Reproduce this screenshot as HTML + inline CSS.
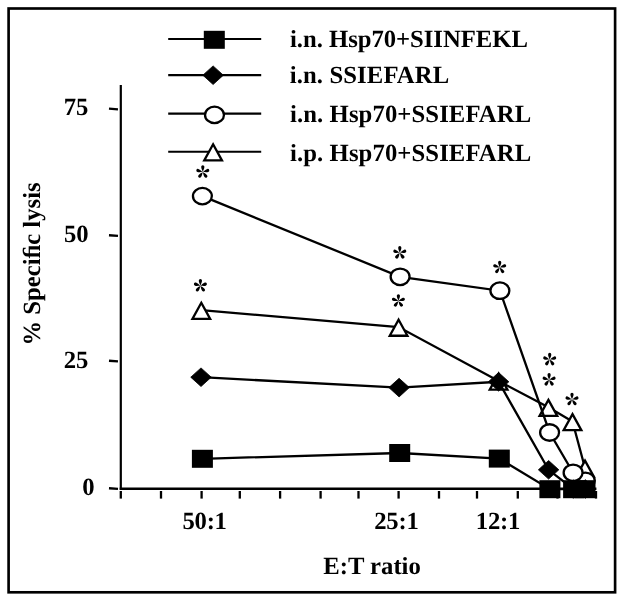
<!DOCTYPE html><html><head><meta charset="utf-8"><style>html,body{margin:0;padding:0;background:#fff;width:623px;height:600px;overflow:hidden}svg{display:block;will-change:transform}</style></head><body>
<svg width="623" height="600" viewBox="0 0 623 600">
<rect x="0" y="0" width="623" height="600" fill="#fff"/>
<rect x="8.6" y="8.5" width="606.5" height="583.8" fill="none" stroke="#000" stroke-width="2.65"/>
<line x1="120.8" y1="85" x2="120.8" y2="489.7" stroke="#000" stroke-width="2.2"/>
<line x1="119.7" y1="488.8" x2="596.4" y2="488.8" stroke="#000" stroke-width="2.4"/>
<line x1="109" y1="108.65" x2="118" y2="109.35" stroke="#000" stroke-width="2.3"/>
<line x1="109" y1="235.25" x2="118" y2="235.95" stroke="#000" stroke-width="2.3"/>
<line x1="109" y1="360.75" x2="118" y2="361.45" stroke="#000" stroke-width="2.3"/>
<line x1="109" y1="488.25" x2="118" y2="488.95" stroke="#000" stroke-width="2.3"/>
<line x1="120.8" y1="491" x2="120.8" y2="498.6" stroke="#000" stroke-width="2.3"/>
<line x1="161.0" y1="491" x2="161.0" y2="498.6" stroke="#000" stroke-width="2.3"/>
<line x1="201.6" y1="491" x2="201.6" y2="498.6" stroke="#000" stroke-width="2.3"/>
<line x1="239.8" y1="491" x2="239.8" y2="498.6" stroke="#000" stroke-width="2.3"/>
<line x1="280.1" y1="491" x2="280.1" y2="498.6" stroke="#000" stroke-width="2.3"/>
<line x1="320.6" y1="491" x2="320.6" y2="498.6" stroke="#000" stroke-width="2.3"/>
<line x1="358.5" y1="491" x2="358.5" y2="498.6" stroke="#000" stroke-width="2.3"/>
<line x1="398.6" y1="491" x2="398.6" y2="498.6" stroke="#000" stroke-width="2.3"/>
<line x1="439.0" y1="491" x2="439.0" y2="498.6" stroke="#000" stroke-width="2.3"/>
<line x1="477.0" y1="491" x2="477.0" y2="498.6" stroke="#000" stroke-width="2.3"/>
<line x1="517.8" y1="491" x2="517.8" y2="498.6" stroke="#000" stroke-width="2.3"/>
<line x1="557.5" y1="491" x2="557.5" y2="498.6" stroke="#000" stroke-width="2.3"/>
<line x1="596.0" y1="491" x2="596.0" y2="498.6" stroke="#000" stroke-width="2.3"/>
<line x1="168.2" y1="39.0" x2="261.2" y2="39.0" stroke="#000" stroke-width="2.1"/>
<rect x="203.80" y="30.80" width="21" height="18" fill="#000"/>
<line x1="168.2" y1="75.1" x2="261.2" y2="75.1" stroke="#000" stroke-width="2.1"/>
<path d="M213.10,65.90 L223.35,75.20 L213.10,84.50 L202.85,75.20 Z" fill="#000" stroke="#000" stroke-width="0.8" stroke-linejoin="round"/>
<line x1="168.2" y1="113.6" x2="261.2" y2="113.6" stroke="#000" stroke-width="2.1"/>
<ellipse cx="214.5" cy="114.9" rx="9.45" ry="8.25" fill="#fff" stroke="#000" stroke-width="2.3"/>
<line x1="168.2" y1="151.7" x2="261.2" y2="151.7" stroke="#000" stroke-width="2.1"/>
<path d="M213.10,144.28 L221.95,160.35 L204.25,160.35 Z" fill="#fff" stroke="#000" stroke-width="2.3" stroke-linejoin="miter"/>
<polyline points="201.3,310.2 398.6,327.1 498.6,381.0 548.4,407.3 572.5,421.5 585.0,468.0" fill="none" stroke="#000" stroke-width="2.3"/>
<path d="M201.30,302.78 L210.15,318.85 L192.45,318.85 Z" fill="#fff" stroke="#000" stroke-width="2.3" stroke-linejoin="miter"/>
<path d="M398.60,319.68 L407.45,335.75 L389.75,335.75 Z" fill="#fff" stroke="#000" stroke-width="2.3" stroke-linejoin="miter"/>
<path d="M498.60,373.58 L507.45,389.65 L489.75,389.65 Z" fill="#fff" stroke="#000" stroke-width="2.3" stroke-linejoin="miter"/>
<path d="M548.40,399.88 L557.25,415.95 L539.55,415.95 Z" fill="#fff" stroke="#000" stroke-width="2.3" stroke-linejoin="miter"/>
<path d="M572.50,414.08 L581.35,430.15 L563.65,430.15 Z" fill="#fff" stroke="#000" stroke-width="2.3" stroke-linejoin="miter"/>
<path d="M585.00,460.58 L593.85,476.65 L576.15,476.65 Z" fill="#fff" stroke="#000" stroke-width="2.3" stroke-linejoin="miter"/>
<polyline points="202.4,196.1 400.1,276.8 499.9,290.7 549.6,432.5 573.1,472.8 585.3,480.8" fill="none" stroke="#000" stroke-width="2.3"/>
<ellipse cx="585.3" cy="480.8" rx="9.45" ry="8.25" fill="#fff" stroke="#000" stroke-width="2.3"/>
<ellipse cx="573.1" cy="472.8" rx="9.45" ry="8.25" fill="#fff" stroke="#000" stroke-width="2.3"/>
<ellipse cx="549.6" cy="432.5" rx="9.45" ry="8.25" fill="#fff" stroke="#000" stroke-width="2.3"/>
<ellipse cx="499.9" cy="290.7" rx="9.45" ry="8.25" fill="#fff" stroke="#000" stroke-width="2.3"/>
<ellipse cx="400.1" cy="276.8" rx="9.45" ry="8.25" fill="#fff" stroke="#000" stroke-width="2.3"/>
<ellipse cx="202.4" cy="196.1" rx="9.45" ry="8.25" fill="#fff" stroke="#000" stroke-width="2.3"/>
<polyline points="201.0,377.2 399.1,387.6 498.6,381.8 548.6,469.8 573.2,489.0 585.3,489.0" fill="none" stroke="#000" stroke-width="2.3"/>
<path d="M201.00,367.90 L211.25,377.20 L201.00,386.50 L190.75,377.20 Z" fill="#000" stroke="#000" stroke-width="0.8" stroke-linejoin="round"/>
<path d="M399.10,378.30 L409.35,387.60 L399.10,396.90 L388.85,387.60 Z" fill="#000" stroke="#000" stroke-width="0.8" stroke-linejoin="round"/>
<path d="M498.60,372.50 L508.85,381.80 L498.60,391.10 L488.35,381.80 Z" fill="#000" stroke="#000" stroke-width="0.8" stroke-linejoin="round"/>
<path d="M548.60,460.50 L558.85,469.80 L548.60,479.10 L538.35,469.80 Z" fill="#000" stroke="#000" stroke-width="0.8" stroke-linejoin="round"/>
<path d="M573.20,479.70 L583.45,489.00 L573.20,498.30 L562.95,489.00 Z" fill="#000" stroke="#000" stroke-width="0.8" stroke-linejoin="round"/>
<path d="M585.30,479.70 L595.55,489.00 L585.30,498.30 L575.05,489.00 Z" fill="#000" stroke="#000" stroke-width="0.8" stroke-linejoin="round"/>
<polyline points="202.4,458.8 399.7,453.0 499.3,458.6 549.9,489.2 573.6,489.2 585.0,489.2" fill="none" stroke="#000" stroke-width="2.3"/>
<rect x="191.90" y="449.80" width="21" height="18" fill="#000"/>
<rect x="389.20" y="444.00" width="21" height="18" fill="#000"/>
<rect x="488.80" y="449.60" width="21" height="18" fill="#000"/>
<rect x="539.40" y="480.20" width="21" height="18" fill="#000"/>
<rect x="563.10" y="480.20" width="21" height="18" fill="#000"/>
<rect x="574.50" y="480.20" width="21" height="18" fill="#000"/>
<g transform="translate(202.8,172.0) scale(1.0,1)"><path transform="rotate(0)" d="M0,0 C-0.35,-1.4 -1.6,-3.15 -1.6,-5.15 A1.6,1.6 0 0 1 1.6,-5.15 C1.6,-3.15 0.35,-1.4 0,0 Z" fill="#000"/><path transform="rotate(72)" d="M0,0 C-0.35,-1.4 -1.6,-3.15 -1.6,-5.15 A1.6,1.6 0 0 1 1.6,-5.15 C1.6,-3.15 0.35,-1.4 0,0 Z" fill="#000"/><path transform="rotate(144)" d="M0,0 C-0.35,-1.4 -1.6,-3.15 -1.6,-5.15 A1.6,1.6 0 0 1 1.6,-5.15 C1.6,-3.15 0.35,-1.4 0,0 Z" fill="#000"/><path transform="rotate(216)" d="M0,0 C-0.35,-1.4 -1.6,-3.15 -1.6,-5.15 A1.6,1.6 0 0 1 1.6,-5.15 C1.6,-3.15 0.35,-1.4 0,0 Z" fill="#000"/><path transform="rotate(288)" d="M0,0 C-0.35,-1.4 -1.6,-3.15 -1.6,-5.15 A1.6,1.6 0 0 1 1.6,-5.15 C1.6,-3.15 0.35,-1.4 0,0 Z" fill="#000"/></g>
<g transform="translate(399.8,252.8) scale(1.0,1)"><path transform="rotate(0)" d="M0,0 C-0.35,-1.4 -1.6,-3.15 -1.6,-5.15 A1.6,1.6 0 0 1 1.6,-5.15 C1.6,-3.15 0.35,-1.4 0,0 Z" fill="#000"/><path transform="rotate(72)" d="M0,0 C-0.35,-1.4 -1.6,-3.15 -1.6,-5.15 A1.6,1.6 0 0 1 1.6,-5.15 C1.6,-3.15 0.35,-1.4 0,0 Z" fill="#000"/><path transform="rotate(144)" d="M0,0 C-0.35,-1.4 -1.6,-3.15 -1.6,-5.15 A1.6,1.6 0 0 1 1.6,-5.15 C1.6,-3.15 0.35,-1.4 0,0 Z" fill="#000"/><path transform="rotate(216)" d="M0,0 C-0.35,-1.4 -1.6,-3.15 -1.6,-5.15 A1.6,1.6 0 0 1 1.6,-5.15 C1.6,-3.15 0.35,-1.4 0,0 Z" fill="#000"/><path transform="rotate(288)" d="M0,0 C-0.35,-1.4 -1.6,-3.15 -1.6,-5.15 A1.6,1.6 0 0 1 1.6,-5.15 C1.6,-3.15 0.35,-1.4 0,0 Z" fill="#000"/></g>
<g transform="translate(499.7,267.4) scale(1.0,1)"><path transform="rotate(0)" d="M0,0 C-0.35,-1.4 -1.6,-3.15 -1.6,-5.15 A1.6,1.6 0 0 1 1.6,-5.15 C1.6,-3.15 0.35,-1.4 0,0 Z" fill="#000"/><path transform="rotate(72)" d="M0,0 C-0.35,-1.4 -1.6,-3.15 -1.6,-5.15 A1.6,1.6 0 0 1 1.6,-5.15 C1.6,-3.15 0.35,-1.4 0,0 Z" fill="#000"/><path transform="rotate(144)" d="M0,0 C-0.35,-1.4 -1.6,-3.15 -1.6,-5.15 A1.6,1.6 0 0 1 1.6,-5.15 C1.6,-3.15 0.35,-1.4 0,0 Z" fill="#000"/><path transform="rotate(216)" d="M0,0 C-0.35,-1.4 -1.6,-3.15 -1.6,-5.15 A1.6,1.6 0 0 1 1.6,-5.15 C1.6,-3.15 0.35,-1.4 0,0 Z" fill="#000"/><path transform="rotate(288)" d="M0,0 C-0.35,-1.4 -1.6,-3.15 -1.6,-5.15 A1.6,1.6 0 0 1 1.6,-5.15 C1.6,-3.15 0.35,-1.4 0,0 Z" fill="#000"/></g>
<g transform="translate(200.4,285.7) scale(1.0,1)"><path transform="rotate(0)" d="M0,0 C-0.35,-1.4 -1.6,-3.15 -1.6,-5.15 A1.6,1.6 0 0 1 1.6,-5.15 C1.6,-3.15 0.35,-1.4 0,0 Z" fill="#000"/><path transform="rotate(72)" d="M0,0 C-0.35,-1.4 -1.6,-3.15 -1.6,-5.15 A1.6,1.6 0 0 1 1.6,-5.15 C1.6,-3.15 0.35,-1.4 0,0 Z" fill="#000"/><path transform="rotate(144)" d="M0,0 C-0.35,-1.4 -1.6,-3.15 -1.6,-5.15 A1.6,1.6 0 0 1 1.6,-5.15 C1.6,-3.15 0.35,-1.4 0,0 Z" fill="#000"/><path transform="rotate(216)" d="M0,0 C-0.35,-1.4 -1.6,-3.15 -1.6,-5.15 A1.6,1.6 0 0 1 1.6,-5.15 C1.6,-3.15 0.35,-1.4 0,0 Z" fill="#000"/><path transform="rotate(288)" d="M0,0 C-0.35,-1.4 -1.6,-3.15 -1.6,-5.15 A1.6,1.6 0 0 1 1.6,-5.15 C1.6,-3.15 0.35,-1.4 0,0 Z" fill="#000"/></g>
<g transform="translate(398.4,300.9) scale(1.0,1)"><path transform="rotate(0)" d="M0,0 C-0.35,-1.4 -1.6,-3.15 -1.6,-5.15 A1.6,1.6 0 0 1 1.6,-5.15 C1.6,-3.15 0.35,-1.4 0,0 Z" fill="#000"/><path transform="rotate(72)" d="M0,0 C-0.35,-1.4 -1.6,-3.15 -1.6,-5.15 A1.6,1.6 0 0 1 1.6,-5.15 C1.6,-3.15 0.35,-1.4 0,0 Z" fill="#000"/><path transform="rotate(144)" d="M0,0 C-0.35,-1.4 -1.6,-3.15 -1.6,-5.15 A1.6,1.6 0 0 1 1.6,-5.15 C1.6,-3.15 0.35,-1.4 0,0 Z" fill="#000"/><path transform="rotate(216)" d="M0,0 C-0.35,-1.4 -1.6,-3.15 -1.6,-5.15 A1.6,1.6 0 0 1 1.6,-5.15 C1.6,-3.15 0.35,-1.4 0,0 Z" fill="#000"/><path transform="rotate(288)" d="M0,0 C-0.35,-1.4 -1.6,-3.15 -1.6,-5.15 A1.6,1.6 0 0 1 1.6,-5.15 C1.6,-3.15 0.35,-1.4 0,0 Z" fill="#000"/></g>
<g transform="translate(549.7,359.59999999999997) scale(1.0,1)"><path transform="rotate(0)" d="M0,0 C-0.35,-1.4 -1.6,-3.15 -1.6,-5.15 A1.6,1.6 0 0 1 1.6,-5.15 C1.6,-3.15 0.35,-1.4 0,0 Z" fill="#000"/><path transform="rotate(72)" d="M0,0 C-0.35,-1.4 -1.6,-3.15 -1.6,-5.15 A1.6,1.6 0 0 1 1.6,-5.15 C1.6,-3.15 0.35,-1.4 0,0 Z" fill="#000"/><path transform="rotate(144)" d="M0,0 C-0.35,-1.4 -1.6,-3.15 -1.6,-5.15 A1.6,1.6 0 0 1 1.6,-5.15 C1.6,-3.15 0.35,-1.4 0,0 Z" fill="#000"/><path transform="rotate(216)" d="M0,0 C-0.35,-1.4 -1.6,-3.15 -1.6,-5.15 A1.6,1.6 0 0 1 1.6,-5.15 C1.6,-3.15 0.35,-1.4 0,0 Z" fill="#000"/><path transform="rotate(288)" d="M0,0 C-0.35,-1.4 -1.6,-3.15 -1.6,-5.15 A1.6,1.6 0 0 1 1.6,-5.15 C1.6,-3.15 0.35,-1.4 0,0 Z" fill="#000"/></g>
<g transform="translate(549.1,379.79999999999995) scale(1.0,1)"><path transform="rotate(0)" d="M0,0 C-0.35,-1.4 -1.6,-3.15 -1.6,-5.15 A1.6,1.6 0 0 1 1.6,-5.15 C1.6,-3.15 0.35,-1.4 0,0 Z" fill="#000"/><path transform="rotate(72)" d="M0,0 C-0.35,-1.4 -1.6,-3.15 -1.6,-5.15 A1.6,1.6 0 0 1 1.6,-5.15 C1.6,-3.15 0.35,-1.4 0,0 Z" fill="#000"/><path transform="rotate(144)" d="M0,0 C-0.35,-1.4 -1.6,-3.15 -1.6,-5.15 A1.6,1.6 0 0 1 1.6,-5.15 C1.6,-3.15 0.35,-1.4 0,0 Z" fill="#000"/><path transform="rotate(216)" d="M0,0 C-0.35,-1.4 -1.6,-3.15 -1.6,-5.15 A1.6,1.6 0 0 1 1.6,-5.15 C1.6,-3.15 0.35,-1.4 0,0 Z" fill="#000"/><path transform="rotate(288)" d="M0,0 C-0.35,-1.4 -1.6,-3.15 -1.6,-5.15 A1.6,1.6 0 0 1 1.6,-5.15 C1.6,-3.15 0.35,-1.4 0,0 Z" fill="#000"/></g>
<g transform="translate(572,399.5) scale(1.0,1)"><path transform="rotate(0)" d="M0,0 C-0.35,-1.4 -1.6,-3.15 -1.6,-5.15 A1.6,1.6 0 0 1 1.6,-5.15 C1.6,-3.15 0.35,-1.4 0,0 Z" fill="#000"/><path transform="rotate(72)" d="M0,0 C-0.35,-1.4 -1.6,-3.15 -1.6,-5.15 A1.6,1.6 0 0 1 1.6,-5.15 C1.6,-3.15 0.35,-1.4 0,0 Z" fill="#000"/><path transform="rotate(144)" d="M0,0 C-0.35,-1.4 -1.6,-3.15 -1.6,-5.15 A1.6,1.6 0 0 1 1.6,-5.15 C1.6,-3.15 0.35,-1.4 0,0 Z" fill="#000"/><path transform="rotate(216)" d="M0,0 C-0.35,-1.4 -1.6,-3.15 -1.6,-5.15 A1.6,1.6 0 0 1 1.6,-5.15 C1.6,-3.15 0.35,-1.4 0,0 Z" fill="#000"/><path transform="rotate(288)" d="M0,0 C-0.35,-1.4 -1.6,-3.15 -1.6,-5.15 A1.6,1.6 0 0 1 1.6,-5.15 C1.6,-3.15 0.35,-1.4 0,0 Z" fill="#000"/></g>
<text transform="translate(290.00,47.00)" font-family="Liberation Serif" font-weight="bold" text-rendering="geometricPrecision" font-size="24.7" letter-spacing="-0.03">i.n. Hsp70+SIINFEKL</text>
<text transform="translate(289.70,83.00)" font-family="Liberation Serif" font-weight="bold" text-rendering="geometricPrecision" font-size="24.7" letter-spacing="0.12">i.n. SSIEFARL</text>
<text transform="translate(290.00,122.00)" font-family="Liberation Serif" font-weight="bold" text-rendering="geometricPrecision" font-size="24.7" letter-spacing="0.1">i.n. Hsp70+SSIEFARL</text>
<text transform="translate(290.00,160.60)" font-family="Liberation Serif" font-weight="bold" text-rendering="geometricPrecision" font-size="24.7" letter-spacing="0.1">i.p. Hsp70+SSIEFARL</text>
<text transform="translate(63.70,115.00)" font-family="Liberation Serif" font-weight="bold" text-rendering="geometricPrecision" font-size="24.7">75</text>
<text transform="translate(64.00,242.00)" font-family="Liberation Serif" font-weight="bold" text-rendering="geometricPrecision" font-size="24.7">50</text>
<text transform="translate(63.70,368.00)" font-family="Liberation Serif" font-weight="bold" text-rendering="geometricPrecision" font-size="24.7">25</text>
<text transform="translate(82.35,495.00)" font-family="Liberation Serif" font-weight="bold" text-rendering="geometricPrecision" font-size="24.7">0</text>
<text transform="translate(182.50,529.00)" font-family="Liberation Serif" font-weight="bold" text-rendering="geometricPrecision" font-size="24.7" letter-spacing="-0.27">50:1</text>
<text transform="translate(374.30,529.00)" font-family="Liberation Serif" font-weight="bold" text-rendering="geometricPrecision" font-size="24.7" letter-spacing="-0.27">25:1</text>
<text transform="translate(475.80,529.00)" font-family="Liberation Serif" font-weight="bold" text-rendering="geometricPrecision" font-size="24.7" letter-spacing="-0.2">12:1</text>
<text transform="translate(323.20,574.00)" font-family="Liberation Serif" font-weight="bold" text-rendering="geometricPrecision" font-size="24.7">E:T ratio</text>
<text transform="translate(40.30,345.60) rotate(-90)" font-family="Liberation Serif" font-weight="bold" text-rendering="geometricPrecision" font-size="24.7">% Speciﬁc lysis</text>
</svg></body></html>
